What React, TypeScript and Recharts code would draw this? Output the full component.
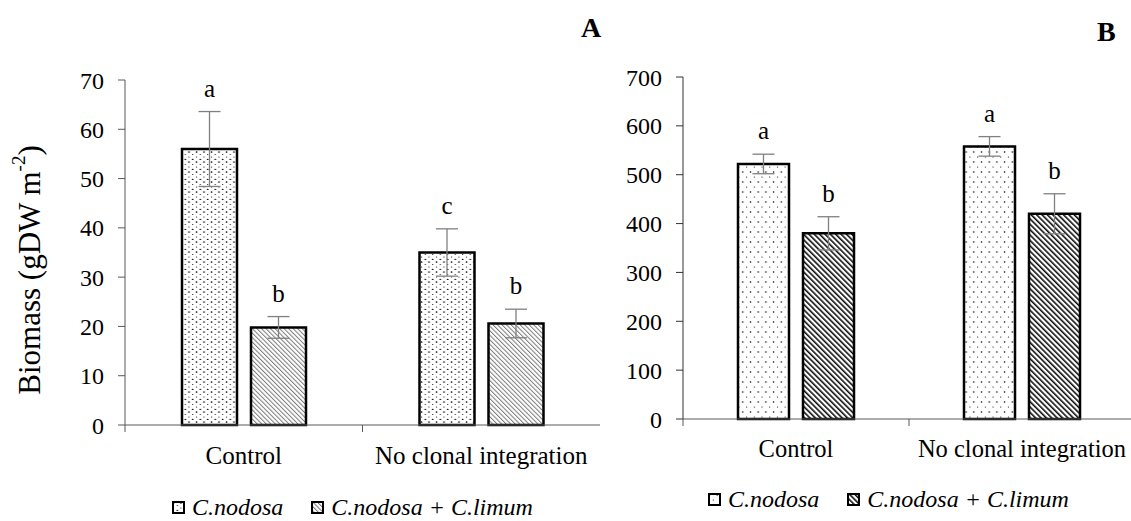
import React from 'react';
import { BarChart, Bar, XAxis, YAxis, ErrorBar, LabelList } from 'recharts';

const categories = ['Control', 'No clonal integration'];
const seriesNames = ['C.nodosa', 'C.nodosa + C.limum'];

// Panel A
const nodosaA = [56, 35];
const nodosaErrA = [7.6, 4.8];
const mixedA = [19.8, 20.6];
const mixedErrA = [2.2, 2.9];
const lettersNodosaA = ['a', 'c'];
const lettersMixedA = ['b', 'b'];
const ticksA = [0, 10, 20, 30, 40, 50, 60, 70];

// Panel B
const nodosaB = [522, 558];
const nodosaErrB = [20, 20];
const mixedB = [380, 420];
const mixedErrB = [34, 41];
const lettersNodosaB = ['a', 'a'];
const lettersMixedB = ['b', 'b'];
const ticksB = [0, 100, 200, 300, 400, 500, 600, 700];

const FONT = "'Liberation Serif', 'Times New Roman', serif";
const AXIS = '#595959';

function buildRows(n: number[], ne: number[], m: number[], me: number[], ln: string[], lm: string[]) {
  return categories.map((c, i) => ({
    category: c,
    nodosa: n[i],
    nodosaErr: ne[i],
    nodosaCap: ne[i],
    nodosaLetter: ln[i],
    mixed: m[i],
    mixedErr: me[i],
    mixedCap: me[i],
    mixedLetter: lm[i],
  }));
}

const dataA = buildRows(nodosaA, nodosaErrA, mixedA, mixedErrA, lettersNodosaA, lettersMixedA);
const dataB = buildRows(nodosaB, nodosaErrB, mixedB, mixedErrB, lettersNodosaB, lettersMixedB);

const makeCatTick = (fontSize: number, dy: number) => (props: any) => {
  const { x, y, payload } = props;
  const off = payload && typeof payload.offset === 'number' ? payload.offset : 0;
  return (
    <g>
      <line x1={x - off} x2={x - off} y1={y} y2={y + 7} stroke={AXIS} strokeWidth={1} />
      <text x={x} y={y + dy} textAnchor="middle" fontSize={fontSize} fontFamily={FONT} fill="#000">
        {payload.value}
      </text>
    </g>
  );
};

const Defs = () => (
  <svg width={0} height={0} style={{ position: 'absolute' }}>
    <defs>
      <pattern id="dotsA" patternUnits="userSpaceOnUse" width={7.5} height={10}>
        <rect width={7.5} height={10} fill="#fff" />
        <circle cx={1.5} cy={2} r={0.85} fill="#000" />
        <circle cx={1.5} cy={7} r={0.6} fill="#000" />
        <circle cx={5.25} cy={4.5} r={0.6} fill="#000" />
        <circle cx={5.25} cy={9.5} r={0.85} fill="#000" />
      </pattern>
      <pattern id="dotsB" patternUnits="userSpaceOnUse" width={7.7} height={10}>
        <rect width={7.7} height={10} fill="#fff" />
        <circle cx={1.5} cy={2} r={0.8} fill="#000" />
        <circle cx={5.35} cy={7} r={0.6} fill="#000" />
      </pattern>
      <pattern id="hatchA" patternUnits="userSpaceOnUse" width={3.2} height={10} patternTransform="rotate(-45)">
        <rect width={3.2} height={10} fill="#fff" />
        <line x1={0.5} y1={0} x2={0.5} y2={10} stroke="#7a7a7a" strokeWidth={1} />
      </pattern>
      <pattern id="hatchB" patternUnits="userSpaceOnUse" width={3.8} height={10} patternTransform="rotate(-45)">
        <rect width={3.8} height={10} fill="#fff" />
        <line x1={0.8} y1={0} x2={0.8} y2={10} stroke="#000" strokeWidth={1.5} />
      </pattern>
    </defs>
  </svg>
);

const YLabelA = () => (
  <text
    transform="translate(29,270) rotate(-90)"
    textAnchor="middle"
    dominantBaseline="central"
    fontSize={31}
    fontFamily={FONT}
    fill="#000"
  >
    Biomass (gDW m<tspan dy={-11} fontSize={19}>-2</tspan>
    <tspan dy={11}>)</tspan>
  </text>
);

const LegendRow = ({ left, top, dots, hatch }: { left: number; top: number; dots: string; hatch: string }) => (
  <div
    style={{
      position: 'absolute',
      left,
      top,
      display: 'flex',
      alignItems: 'center',
      fontFamily: FONT,
      fontStyle: 'italic',
      fontSize: 24,
      lineHeight: '16px',
      whiteSpace: 'nowrap',
      color: '#000',
    }}
  >
    <svg width={13} height={13} style={{ marginRight: 7 }}>
      <rect x={1} y={1} width={11} height={11} fill={`url(#${dots})`} stroke="#000" strokeWidth={2} />
    </svg>
    <span>{seriesNames[0]}</span>
    <svg width={13} height={13} style={{ marginLeft: 28, marginRight: 7 }}>
      <rect x={1} y={1} width={11} height={11} fill={`url(#${hatch})`} stroke="#000" strokeWidth={2} />
    </svg>
    <span>{seriesNames[1]}</span>
  </div>
);

const LABEL_FONT = 25;

export default function App() {
  return (
    <div
      style={{
        position: 'absolute',
        left: 0,
        top: 0,
        width: 1131,
        height: 521,
        overflow: 'hidden',
        background: '#fff',
      }}
    >
      <Defs />
      <div style={{ position: 'absolute', left: 0, top: 0 }}>
        <BarChart
          width={610}
          height={470}
          data={dataA}
          margin={{ top: 80, right: 10, bottom: 15, left: 65 }}
          barSize={55}
          barGap={14}
        >
          <XAxis
            dataKey="category"
            height={30}
            tickLine={false}
            tickSize={0}
            tickMargin={0}
            axisLine={{ stroke: AXIS, strokeWidth: 1 }}
            tick={makeCatTick(25, 39)}
            interval={0}
          />
          <YAxis
            width={60}
            domain={[0, 70]}
            ticks={ticksA}
            interval={0}
            tickSize={7}
            tickMargin={14}
            axisLine={{ stroke: AXIS, strokeWidth: 1 }}
            tickLine={{ stroke: AXIS, strokeWidth: 1 }}
            tick={{ fontSize: 24, fontFamily: FONT, fill: '#000' }}
            label={{ content: () => <YLabelA /> }}
          />
          <Bar dataKey="nodosa" stackId="n" fill="url(#dotsA)" stroke="#000" strokeWidth={2.5} isAnimationActive={false}>
            <ErrorBar dataKey="nodosaErr" width={11} stroke="#808080" strokeWidth={1.3} direction="y" />
          </Bar>
          <Bar dataKey="nodosaCap" stackId="n" fill="transparent" stroke="none" isAnimationActive={false}>
            <LabelList dataKey="nodosaLetter" position="top" offset={15} fontSize={LABEL_FONT} fontFamily={FONT} fill="#000" />
          </Bar>
          <Bar dataKey="mixed" stackId="m" fill="url(#hatchA)" stroke="#000" strokeWidth={2.5} isAnimationActive={false}>
            <ErrorBar dataKey="mixedErr" width={11} stroke="#808080" strokeWidth={1.3} direction="y" />
          </Bar>
          <Bar dataKey="mixedCap" stackId="m" fill="transparent" stroke="none" isAnimationActive={false}>
            <LabelList dataKey="mixedLetter" position="top" offset={15} fontSize={LABEL_FONT} fontFamily={FONT} fill="#000" />
          </Bar>
        </BarChart>
      </div>

      <div style={{ position: 'absolute', left: 595, top: 0 }}>
        <BarChart
          width={540}
          height={470}
          data={dataB}
          margin={{ top: 77, right: 0, bottom: 21, left: 28 }}
          barSize={51}
          barGap={14}
        >
          <XAxis
            dataKey="category"
            height={30}
            tickLine={false}
            tickSize={0}
            tickMargin={0}
            axisLine={{ stroke: AXIS, strokeWidth: 1 }}
            tick={makeCatTick(24.5, 38)}
            interval={0}
          />
          <YAxis
            width={60}
            domain={[0, 700]}
            ticks={ticksB}
            interval={0}
            tickSize={7}
            tickMargin={14}
            axisLine={{ stroke: '#333', strokeWidth: 1 }}
            tickLine={{ stroke: '#333', strokeWidth: 1 }}
            tick={{ fontSize: 24, fontFamily: FONT, fill: '#000' }}
          />
          <Bar dataKey="nodosa" stackId="n" fill="url(#dotsB)" stroke="#000" strokeWidth={2.5} isAnimationActive={false}>
            <ErrorBar dataKey="nodosaErr" width={11} stroke="#808080" strokeWidth={1.3} direction="y" />
          </Bar>
          <Bar dataKey="nodosaCap" stackId="n" fill="transparent" stroke="none" isAnimationActive={false}>
            <LabelList dataKey="nodosaLetter" position="top" offset={15} fontSize={LABEL_FONT} fontFamily={FONT} fill="#000" />
          </Bar>
          <Bar dataKey="mixed" stackId="m" fill="url(#hatchB)" stroke="#000" strokeWidth={2.5} isAnimationActive={false}>
            <ErrorBar dataKey="mixedErr" width={11} stroke="#808080" strokeWidth={1.3} direction="y" />
          </Bar>
          <Bar dataKey="mixedCap" stackId="m" fill="transparent" stroke="none" isAnimationActive={false}>
            <LabelList dataKey="mixedLetter" position="top" offset={15} fontSize={LABEL_FONT} fontFamily={FONT} fill="#000" />
          </Bar>
        </BarChart>
      </div>

      <div style={{ position: 'absolute', left: 581, top: 14, fontFamily: FONT, fontWeight: 'bold', fontSize: 28, lineHeight: '28px' }}>A</div>
      <div style={{ position: 'absolute', left: 1097, top: 18, fontFamily: FONT, fontWeight: 'bold', fontSize: 28, lineHeight: '28px' }}>B</div>

      <LegendRow left={172} top={499} dots="dotsA" hatch="hatchA" />
      <LegendRow left={708} top={491} dots="dotsB" hatch="hatchB" />
    </div>
  );
}
